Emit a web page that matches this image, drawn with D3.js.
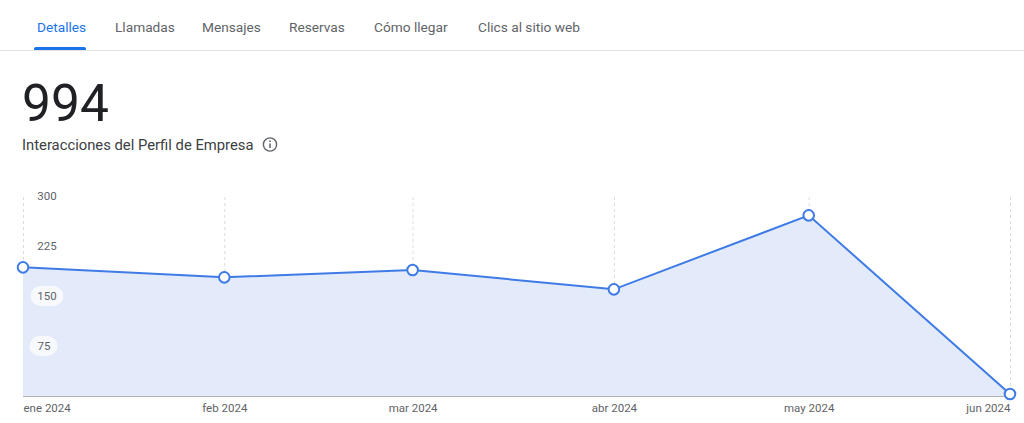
<!DOCTYPE html>
<html><head><meta charset="utf-8">
<script src="https://cdn.jsdelivr.net/npm/d3@7/dist/d3.min.js"></script>
<style>
html,body{margin:0;padding:0;background:#fff;}
svg{display:block;font-family:Roboto,"Noto Sans",sans-serif;}
</style></head>
<body><svg id="c" width="1024" height="423"></svg>
<script>
const tabs = ["Detalles","Llamadas","Mensajes","Reservas","Cómo llegar","Clics al sitio web"];
const tabX = [37,115,202,289,374,478];
const total = "994";
const subtitle = "Interacciones del Perfil de Empresa";
const months = ["2024-01-01","2024-02-01","2024-03-01","2024-04-01","2024-05-01","2024-06-01"];
const monthLabels = ["ene 2024","feb 2024","mar 2024","abr 2024","may 2024","jun 2024"];
const values = [193,178,189,160,271,3];
const yTicks = [75,150,225,300];

const svg = d3.select("#c");
const parse = d3.timeParse("%Y-%m-%d");
const dates = months.map(parse);

// Tabs
svg.append("line").attr("x1",0).attr("x2",1024).attr("y1",50.5).attr("y2",50.5).attr("stroke","#e3e3e3");
svg.selectAll("text.tab").data(tabs).join("text").attr("class","tab")
  .attr("x",(d,i)=>tabX[i]).attr("y",32).attr("font-size",13.7)
  .attr("fill",(d,i)=>i===0?"#1a73e8":"#5f6368").text(d=>d);
svg.append("path").attr("d","M34,50 L34,49 Q34,47 36,47 L84,47 Q86,47 86,49 L86,50 Z").attr("fill","#1a73e8");

// Headline
svg.append("text").attr("x",22).attr("y",121).attr("font-size",51.5).attr("fill","#202124").text(total);
svg.append("text").attr("x",22).attr("y",150).attr("font-size",14.8).attr("fill","#3c4043").text(subtitle);
const ic = svg.append("g").attr("transform","translate(270,144.5)");
ic.append("circle").attr("r",6.6).attr("fill","none").attr("stroke","#5f6368").attr("stroke-width",1.4);
ic.append("rect").attr("x",-0.75).attr("y",-1).attr("width",1.5).attr("height",4.5).attr("fill","#5f6368");
ic.append("circle").attr("cy",-3.3).attr("r",0.9).attr("fill","#5f6368");

// Scales
const x = d3.scaleTime().domain(d3.extent(dates)).range([23,1010]);
const y = d3.scaleLinear().domain([0,300]).range([396,196]);

// vertical dashed grid
svg.selectAll("line.vg").data(dates).join("line").attr("class","vg")
  .attr("x1",d=>x(d)+0.5).attr("x2",d=>x(d)+0.5).attr("y1",y(300)+1).attr("y2",396)
  .attr("stroke","#dadce0").attr("stroke-dasharray","3,3");

const data = dates.map((d,i)=>({d,v:values[i]}));
svg.append("path").datum(data)
  .attr("d",d3.area().x(p=>x(p.d)).y0(y(0)).y1(p=>y(p.v)))
  .attr("fill","#e3eaf9");

// baseline axis
const xAxis = d3.axisBottom(x).tickValues(dates).tickFormat((d,i)=>monthLabels[i]).tickSize(0).tickPadding(8);
const gx = svg.append("g").attr("transform","translate(0,396)").call(xAxis);
gx.select(".domain").attr("stroke","#b0b4ba").attr("d","M23,0.5H1010");
gx.selectAll("text").attr("font-size",11.5).attr("fill","#5f6368").attr("font-family","Roboto,sans-serif")
  .attr("text-anchor",(d,i)=>i===0?"start":(i===dates.length-1?"end":"middle"));

// y labels
const gy = svg.append("g");
yTicks.forEach(t=>{
  const g = gy.append("g").attr("transform",`translate(47,${y(t)})`);
  if (y(t) > y(values[0]) ) {
    g.append("rect").attr("x",-16.5).attr("y",-10).attr("width",t>=100?33:28).attr("height",20).attr("rx",10)
      .attr("fill","#f7f9fd").attr("transform",t>=100?"":"translate(-1,0)");
  }
  g.append("text").attr("text-anchor","middle").attr("x",t>=100?0:-3).attr("dy","0.35em").attr("font-size",11.5)
    .attr("fill","#5f6368").text(t);
});

// line
svg.append("path").datum(data)
  .attr("d",d3.line().x(p=>x(p.d)).y(p=>y(p.v)))
  .attr("fill","none").attr("stroke","#3f7be6").attr("stroke-width",2);
svg.selectAll("circle.pt").data(data).join("circle").attr("class","pt")
  .attr("cx",p=>x(p.d)).attr("cy",p=>y(p.v)).attr("r",5.3)
  .attr("fill","#fff").attr("stroke","#3f7be6").attr("stroke-width",2);
</script></body></html>
